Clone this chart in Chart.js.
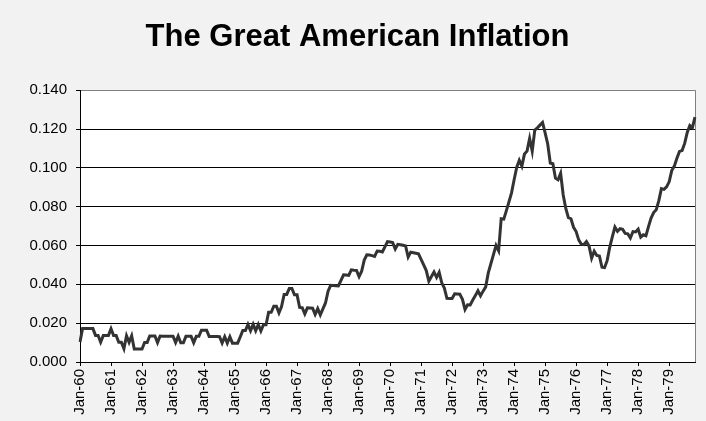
<!DOCTYPE html>
<html>
<head>
<meta charset="utf-8">
<title>The Great American Inflation</title>
<script src="https://cdn.jsdelivr.net/npm/chart.js@4"></script>
<style>
  html, body { margin: 0; padding: 0; background: #f2f2f2; }
  #wrap { width: 706px; height: 421px; }
</style>
</head>
<body>
<div id="wrap"><canvas id="chartInflation" width="706" height="421"></canvas></div>
<script>
// Year-over-year CPI inflation, monthly, Jan 1960 - Nov 1979
const years = [60, 61, 62, 63, 64, 65, 66, 67, 68, 69, 70, 71, 72, 73, 74, 75, 76, 77, 78, 79];
const monthNames = ['Jan', 'Feb', 'Mar', 'Apr', 'May', 'Jun', 'Jul', 'Aug', 'Sep', 'Oct', 'Nov', 'Dec'];

const inflation = [
  0.0103, 0.0173, 0.0173, 0.0172, 0.0172, 0.0172, 0.0137, 0.0137, 0.0102, 0.0136, 0.0136, 0.0136,
  0.0171, 0.0136, 0.0136, 0.0102, 0.0102, 0.0068, 0.0135, 0.0101, 0.0135, 0.0067, 0.0067, 0.0067,
  0.0067, 0.0101, 0.0101, 0.0134, 0.0134, 0.0134, 0.0100, 0.0134, 0.0133, 0.0133, 0.0133, 0.0133,
  0.0133, 0.0100, 0.0133, 0.0099, 0.0099, 0.0132, 0.0132, 0.0132, 0.0099, 0.0132, 0.0132, 0.0164,
  0.0164, 0.0164, 0.0131, 0.0131, 0.0131, 0.0131, 0.0130, 0.0098, 0.0130, 0.0097, 0.0130, 0.0097,
  0.0097, 0.0097, 0.0129, 0.0162, 0.0162, 0.0194, 0.0161, 0.0194, 0.0161, 0.0193, 0.0160, 0.0192,
  0.0192, 0.0256, 0.0256, 0.0287, 0.0287, 0.0253, 0.0285, 0.0348, 0.0348, 0.0379, 0.0379, 0.0346,
  0.0346, 0.0281, 0.0280, 0.0248, 0.0279, 0.0278, 0.0277, 0.0245, 0.0275, 0.0243, 0.0274, 0.0304,
  0.0365, 0.0395, 0.0394, 0.0393, 0.0392, 0.0420, 0.0449, 0.0448, 0.0446, 0.0475, 0.0473, 0.0472,
  0.0440, 0.0468, 0.0525, 0.0552, 0.0551, 0.0548, 0.0544, 0.0571, 0.0570, 0.0567, 0.0593, 0.0620,
  0.0618, 0.0615, 0.0582, 0.0606, 0.0604, 0.0601, 0.0598, 0.0541, 0.0566, 0.0563, 0.0560, 0.0557,
  0.0529, 0.0500, 0.0471, 0.0416, 0.0440, 0.0464, 0.0436, 0.0462, 0.0408, 0.0381, 0.0328, 0.0327,
  0.0327, 0.0351, 0.0350, 0.0349, 0.0323, 0.0271, 0.0295, 0.0294, 0.0319, 0.0342, 0.0367, 0.0341,
  0.0365, 0.0387, 0.0459, 0.0506, 0.0553, 0.0600, 0.0573, 0.0738, 0.0736, 0.0780, 0.0825, 0.0871,
  0.0939, 0.1002, 0.1039, 0.1009, 0.1071, 0.1086, 0.1151, 0.1086, 0.1195, 0.1206, 0.1220, 0.1234,
  0.1180, 0.1123, 0.1025, 0.1021, 0.0947, 0.0939, 0.0972, 0.0860, 0.0791, 0.0744, 0.0738, 0.0694,
  0.0672, 0.0629, 0.0607, 0.0605, 0.0620, 0.0597, 0.0535, 0.0571, 0.0549, 0.0546, 0.0488, 0.0486,
  0.0522, 0.0591, 0.0644, 0.0695, 0.0673, 0.0687, 0.0683, 0.0662, 0.0660, 0.0639, 0.0672, 0.0670,
  0.0684, 0.0643, 0.0655, 0.0650, 0.0697, 0.0741, 0.0770, 0.0784, 0.0831, 0.0893, 0.0889, 0.0902,
  0.0928, 0.0986, 0.1009, 0.1049, 0.1085, 0.1089, 0.1126, 0.1182, 0.1218, 0.1207, 0.1261
];

const yMin = 0;
const yMax = 0.14;
const yStep = 0.02;

// "Jan-60", "Feb-60", ... one label per observation
const labels = [];
years.forEach(y => monthNames.forEach(m => labels.push(m + '-' + y)));
labels.length = inflation.length;

const FONT = "'Liberation Sans', Arial, sans-serif";
Chart.defaults.color = '#000';
Chart.defaults.font.family = FONT;

// grey page, white plot area, grey frame on the right
const plotFrame = {
  id: 'plotFrame',
  beforeDraw(chart) {
    const { ctx, chartArea: a } = chart;
    ctx.save();
    ctx.fillStyle = '#f2f2f2';
    ctx.fillRect(0, 0, chart.width, chart.height);
    ctx.fillStyle = '#ffffff';
    ctx.fillRect(a.left, a.top, a.right - a.left, a.bottom - a.top);
    ctx.restore();
  },
  beforeDatasetsDraw(chart) {
    const { ctx, chartArea: a } = chart;
    ctx.save();
    ctx.strokeStyle = '#808080';
    ctx.lineWidth = 1;
    ctx.beginPath();
    ctx.moveTo(Math.round(a.right) + 0.5, a.top);
    ctx.lineTo(Math.round(a.right) + 0.5, a.bottom);
    ctx.stroke();
    ctx.restore();
  }
};

new Chart(document.getElementById('chartInflation').getContext('2d'), {
  type: 'line',
  data: {
    labels: labels,
    datasets: [{
      label: 'Inflation',
      data: inflation,
      borderColor: '#333333',
      borderWidth: 3,
      pointRadius: 0,
      tension: 0,
      fill: false
    }]
  },
  options: {
    responsive: false,
    animation: false,
    events: [],
    layout: { padding: { left: 20, right: 11, top: 0, bottom: 0 } },
    plugins: {
      legend: { display: false },
      tooltip: { enabled: false },
      title: {
        display: true,
        text: 'The Great American Inflation',
        color: '#000',
        font: { size: 31, weight: 'bold', family: FONT, lineHeight: 1.2 },
        padding: { top: 19, bottom: 34 }
      }
    },
    scales: {
      x: {
        type: 'category',
        offset: false,
        afterFit(scale) { scale.height = 59; },
        border: { display: true, color: '#000', width: 1 },
        grid: {
          drawOnChartArea: false,
          drawTicks: true,
          tickLength: 4,
          color: '#000'
        },
        ticks: {
          autoSkip: false,
          maxRotation: 90,
          minRotation: 90,
          padding: 3,
          font: { size: 15, family: FONT },
          callback: function(value, index) {
            return index % 12 === 0 ? this.getLabelForValue(value) : null;
          }
        }
      },
      y: {
        min: yMin,
        max: yMax,
        afterFit(scale) { scale.width = 60; },
        border: { display: true, color: '#000', width: 1 },
        grid: {
          drawTicks: true,
          tickLength: 4,
          tickColor: '#000',
          color: ctx => (ctx.tick && ctx.tick.value >= yMax - 1e-9) ? '#808080' : '#000'
        },
        ticks: {
          stepSize: yStep,
          padding: 9,
          font: { size: 15, family: FONT },
          callback: value => value.toFixed(3)
        }
      }
    }
  },
  plugins: [plotFrame]
});
</script>
</body>
</html>
